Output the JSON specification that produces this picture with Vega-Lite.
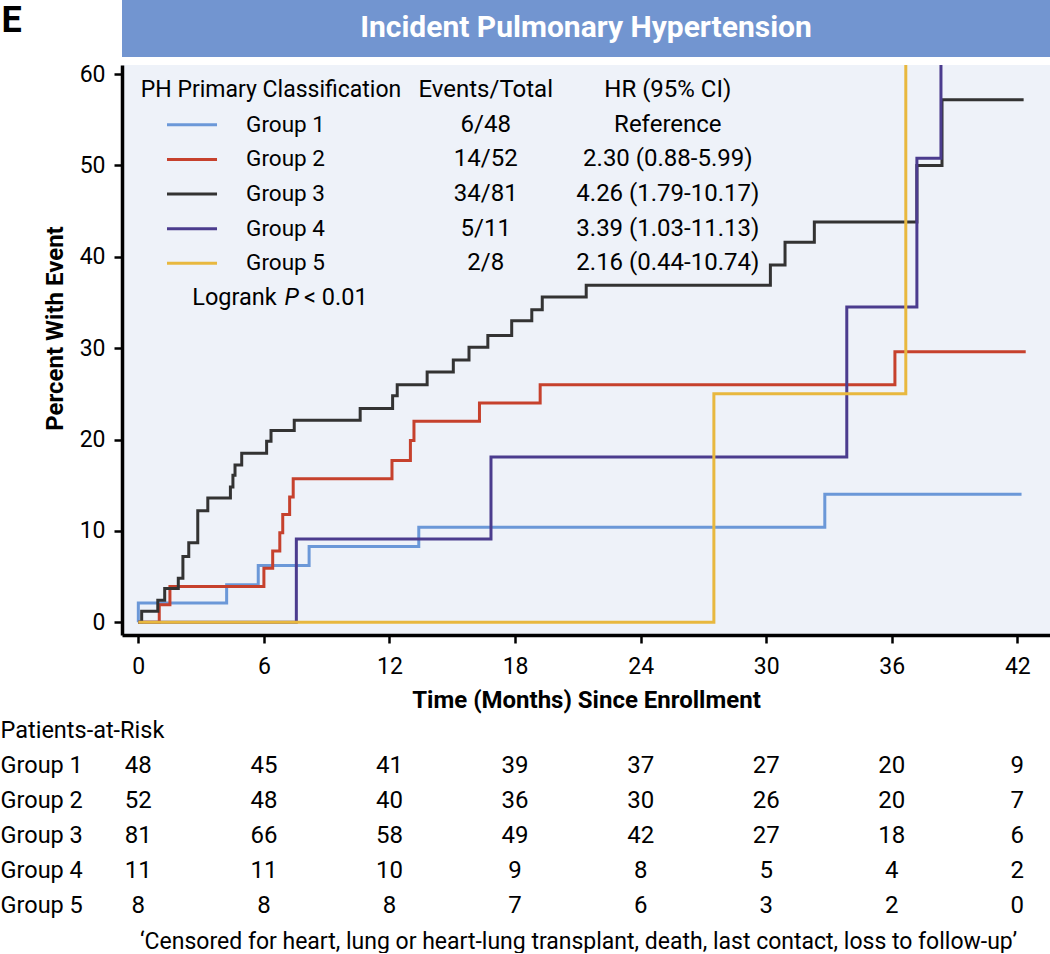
{
  "$schema": "https://vega.github.io/schema/vega-lite/v6.json",
  "padding": 0,
  "autosize": {"type": "pad"},
  "background": "white",
  "bounds": "flush",
  "spacing": 8,
  "config": {
    "font": "Roboto",
    "view": {"stroke": null},
    "text": {"font": "Roboto", "fontSize": 23, "color": "black"},
    "axis": {"labelFont": "Roboto", "titleFont": "Roboto", "labelColor": "black", "titleColor": "black", "grid": false}
  },
  "datasets": {
    "curves": [
      {"group": "Group 1", "t": 0, "pct": 0}, {"group": "Group 1", "t": 0, "pct": 2.1}, {"group": "Group 1", "t": 4.22, "pct": 4.1}, {"group": "Group 1", "t": 5.73, "pct": 6.2}, {"group": "Group 1", "t": 8.16, "pct": 8.3}, {"group": "Group 1", "t": 13.4, "pct": 10.4}, {"group": "Group 1", "t": 32.8, "pct": 14.0}, {"group": "Group 1", "t": 42.2, "pct": 14.0},
      {"group": "Group 2", "t": 0, "pct": 0}, {"group": "Group 2", "t": 1.0, "pct": 1.9}, {"group": "Group 2", "t": 1.51, "pct": 3.9}, {"group": "Group 2", "t": 6.0, "pct": 5.9}, {"group": "Group 2", "t": 6.42, "pct": 7.8}, {"group": "Group 2", "t": 6.76, "pct": 9.8}, {"group": "Group 2", "t": 6.9, "pct": 11.8}, {"group": "Group 2", "t": 7.23, "pct": 13.7}, {"group": "Group 2", "t": 7.4, "pct": 15.7}, {"group": "Group 2", "t": 12.12, "pct": 17.7}, {"group": "Group 2", "t": 13.0, "pct": 19.9}, {"group": "Group 2", "t": 13.17, "pct": 22.0}, {"group": "Group 2", "t": 16.3, "pct": 24.0}, {"group": "Group 2", "t": 19.2, "pct": 26.0}, {"group": "Group 2", "t": 36.15, "pct": 29.6}, {"group": "Group 2", "t": 42.4, "pct": 29.6},
      {"group": "Group 3", "t": 0, "pct": 0}, {"group": "Group 3", "t": 0.16, "pct": 1.2}, {"group": "Group 3", "t": 0.93, "pct": 2.4}, {"group": "Group 3", "t": 1.26, "pct": 3.7}, {"group": "Group 3", "t": 1.91, "pct": 4.8}, {"group": "Group 3", "t": 2.13, "pct": 7.2}, {"group": "Group 3", "t": 2.41, "pct": 8.7}, {"group": "Group 3", "t": 2.84, "pct": 12.2}, {"group": "Group 3", "t": 3.32, "pct": 13.6}, {"group": "Group 3", "t": 4.4, "pct": 14.8}, {"group": "Group 3", "t": 4.52, "pct": 16.1}, {"group": "Group 3", "t": 4.62, "pct": 17.2}, {"group": "Group 3", "t": 4.94, "pct": 18.5}, {"group": "Group 3", "t": 6.13, "pct": 19.8}, {"group": "Group 3", "t": 6.34, "pct": 21.0}, {"group": "Group 3", "t": 7.45, "pct": 22.1}, {"group": "Group 3", "t": 10.6, "pct": 23.4}, {"group": "Group 3", "t": 12.15, "pct": 24.8}, {"group": "Group 3", "t": 12.37, "pct": 26.0}, {"group": "Group 3", "t": 13.8, "pct": 27.4}, {"group": "Group 3", "t": 15.05, "pct": 28.7}, {"group": "Group 3", "t": 15.8, "pct": 30.1}, {"group": "Group 3", "t": 16.7, "pct": 31.4}, {"group": "Group 3", "t": 17.84, "pct": 33.0}, {"group": "Group 3", "t": 18.8, "pct": 34.2}, {"group": "Group 3", "t": 19.3, "pct": 35.6}, {"group": "Group 3", "t": 21.4, "pct": 36.9}, {"group": "Group 3", "t": 30.2, "pct": 39.1}, {"group": "Group 3", "t": 30.9, "pct": 41.6}, {"group": "Group 3", "t": 32.3, "pct": 43.8}, {"group": "Group 3", "t": 37.2, "pct": 50.0}, {"group": "Group 3", "t": 38.4, "pct": 57.2}, {"group": "Group 3", "t": 42.3, "pct": 57.2},
      {"group": "Group 4", "t": 0, "pct": 0}, {"group": "Group 4", "t": 7.55, "pct": 9.1}, {"group": "Group 4", "t": 16.85, "pct": 18.1}, {"group": "Group 4", "t": 33.85, "pct": 34.5}, {"group": "Group 4", "t": 37.2, "pct": 50.8}, {"group": "Group 4", "t": 38.35, "pct": 70.0},
      {"group": "Group 5", "t": 0, "pct": 0}, {"group": "Group 5", "t": 27.5, "pct": 25.0}, {"group": "Group 5", "t": 36.67, "pct": 62.5}
    ],
    "legend": [
      {"row": 0, "label": "PH Primary Classification", "ev": "Events/Total", "hr": "HR (95% CI)"},
      {"row": 1, "group": "Group 1", "label": "Group 1", "ev": "6/48", "hr": "Reference"},
      {"row": 2, "group": "Group 2", "label": "Group 2", "ev": "14/52", "hr": "2.30 (0.88-5.99)"},
      {"row": 3, "group": "Group 3", "label": "Group 3", "ev": "34/81", "hr": "4.26 (1.79-10.17)"},
      {"row": 4, "group": "Group 4", "label": "Group 4", "ev": "5/11", "hr": "3.39 (1.03-11.13)"},
      {"row": 5, "group": "Group 5", "label": "Group 5", "ev": "2/8", "hr": "2.16 (0.44-10.74)"}
    ],
    "logrank": [{"row": 6, "pre": "Logrank", "p": "P", "post": "< 0.01"}],
    "risk": [
      {"row": "Group 1", "t": 0, "n": 48}, {"row": "Group 1", "t": 6, "n": 45}, {"row": "Group 1", "t": 12, "n": 41}, {"row": "Group 1", "t": 18, "n": 39}, {"row": "Group 1", "t": 24, "n": 37}, {"row": "Group 1", "t": 30, "n": 27}, {"row": "Group 1", "t": 36, "n": 20}, {"row": "Group 1", "t": 42, "n": 9},
      {"row": "Group 2", "t": 0, "n": 52}, {"row": "Group 2", "t": 6, "n": 48}, {"row": "Group 2", "t": 12, "n": 40}, {"row": "Group 2", "t": 18, "n": 36}, {"row": "Group 2", "t": 24, "n": 30}, {"row": "Group 2", "t": 30, "n": 26}, {"row": "Group 2", "t": 36, "n": 20}, {"row": "Group 2", "t": 42, "n": 7},
      {"row": "Group 3", "t": 0, "n": 81}, {"row": "Group 3", "t": 6, "n": 66}, {"row": "Group 3", "t": 12, "n": 58}, {"row": "Group 3", "t": 18, "n": 49}, {"row": "Group 3", "t": 24, "n": 42}, {"row": "Group 3", "t": 30, "n": 27}, {"row": "Group 3", "t": 36, "n": 18}, {"row": "Group 3", "t": 42, "n": 6},
      {"row": "Group 4", "t": 0, "n": 11}, {"row": "Group 4", "t": 6, "n": 11}, {"row": "Group 4", "t": 12, "n": 10}, {"row": "Group 4", "t": 18, "n": 9}, {"row": "Group 4", "t": 24, "n": 8}, {"row": "Group 4", "t": 30, "n": 5}, {"row": "Group 4", "t": 36, "n": 4}, {"row": "Group 4", "t": 42, "n": 2},
      {"row": "Group 5", "t": 0, "n": 8}, {"row": "Group 5", "t": 6, "n": 8}, {"row": "Group 5", "t": 12, "n": 8}, {"row": "Group 5", "t": 18, "n": 7}, {"row": "Group 5", "t": 24, "n": 6}, {"row": "Group 5", "t": 30, "n": 3}, {"row": "Group 5", "t": 36, "n": 2}, {"row": "Group 5", "t": 42, "n": 0}
    ]
  },
  "resolve": {"scale": {"x": "independent", "y": "independent", "color": "independent"}},
  "vconcat": [
    {
      "width": 928,
      "height": 57,
      "view": {"fill": "#7295d0", "stroke": null},
      "data": {"values": [{"title": "Incident Pulmonary Hypertension", "panel": "E"}]},
      "mark": {"type": "text", "color": "white", "fontSize": 30, "fontWeight": "bold", "baseline": "alphabetic", "dy": 8.5},
      "encoding": {
        "text": {"field": "title"},
        "y": {"field": "panel", "type": "nominal", "axis": {"title": "E", "labels": false, "ticks": false, "tickSize": 0, "domain": false, "titleAngle": 0, "titleAlign": "left", "titleBaseline": "alphabetic", "titleX": -121, "titleY": 31, "titleFontSize": 36, "titleFontWeight": "bold"}}
      }
    },
    {
      "width": 928,
      "height": 570,
      "view": {"fill": "#eef2f9", "stroke": null},
      "resolve": {"scale": {"y": "independent"}},
      "layer": [
        {
          "data": {"name": "curves"},
          "mark": {"type": "line", "interpolate": "step-after", "strokeWidth": 3, "clip": true},
          "encoding": {
            "x": {"field": "t", "type": "quantitative", "scale": {"domain": [-0.78, 43.56], "nice": false, "zero": false},
              "axis": {"values": [0, 6, 12, 18, 24, 30, 36, 42], "title": "Time (Months) Since Enrollment", "domainColor": "black", "domainWidth": 3.5, "tickColor": "black", "tickWidth": 2.5, "tickSize": 8, "labelFontSize": 23, "labelBaseline": "alphabetic", "labelPadding": 30, "labelFlush": false, "labelOverlap": false, "titleFontSize": 24, "titleFontWeight": "bold", "titleBaseline": "alphabetic", "titleY": 72}},
            "y": {"field": "pct", "type": "quantitative", "scale": {"domain": [-1.4, 61.0], "nice": false, "zero": false},
              "axis": {"values": [0, 10, 20, 30, 40, 50, 60], "title": "Percent With Event", "domainColor": "black", "domainWidth": 3.5, "tickColor": "black", "tickWidth": 2.5, "tickSize": 8, "labelFontSize": 23, "labelPadding": 9, "labelFlush": false, "titleFontSize": 24, "titleFontWeight": "bold", "titleX": -60, "titleY": 263, "titleBaseline": "alphabetic", "titleAlign": "center", "titleAngle": 270}},
            "color": {"field": "group", "type": "nominal", "scale": {"domain": ["Group 1", "Group 2", "Group 3", "Group 4", "Group 5"], "range": ["#6b98d8", "#c6412d", "#333333", "#4b3c8e", "#e8b83f"]}, "legend": null},
            "order": {"value": null}
          }
        },
        {
          "layer": [
            {
              "data": {"name": "legend"},
              "transform": [{"filter": "datum.row > 0"}],
              "mark": {"type": "rule", "strokeWidth": 3},
              "encoding": {
                "x": {"datum": 1.37, "type": "quantitative", "scale": {"domain": [-0.78, 43.56], "nice": false, "zero": false}},
                "x2": {"datum": 3.76},
                "y": {"field": "row", "type": "ordinal", "scale": {"type": "point", "domain": [0, 1, 2, 3, 4, 5, 6, 7, 8, 9, 10, 11, 12, 13, 14, 15], "padding": 0.725}, "axis": null},
                "color": {"field": "group", "type": "nominal", "legend": null}
              }
            },
            {
              "data": {"name": "legend"},
              "transform": [{"filter": "datum.row == 0"}],
              "mark": {"type": "text", "align": "center", "baseline": "middle", "fontSize": 23},
              "encoding": {
                "x": {"datum": 6.34, "type": "quantitative"},
                "y": {"field": "row", "type": "ordinal"},
                "text": {"field": "label"}
              }
            },
            {
              "data": {"name": "legend"},
              "transform": [{"filter": "datum.row > 0"}],
              "mark": {"type": "text", "align": "left", "baseline": "middle", "fontSize": 22.5},
              "encoding": {
                "x": {"datum": 5.15, "type": "quantitative"},
                "y": {"field": "row", "type": "ordinal"},
                "text": {"field": "label"}
              }
            },
            {
              "data": {"name": "legend"},
              "mark": {"type": "text", "align": "center", "baseline": "middle", "fontSize": 24},
              "encoding": {
                "x": {"datum": 16.6, "type": "quantitative"},
                "y": {"field": "row", "type": "ordinal"},
                "text": {"field": "ev"}
              }
            },
            {
              "data": {"name": "legend"},
              "mark": {"type": "text", "align": "center", "baseline": "middle", "fontSize": 24},
              "encoding": {
                "x": {"datum": 25.3, "type": "quantitative"},
                "y": {"field": "row", "type": "ordinal"},
                "text": {"field": "hr"}
              }
            },
            {
              "data": {"name": "logrank"},
              "mark": {"type": "text", "align": "right", "baseline": "middle", "fontSize": 23.5},
              "encoding": {
                "x": {"datum": 6.61, "type": "quantitative"},
                "y": {"field": "row", "type": "ordinal"},
                "text": {"field": "pre"}
              }
            },
            {
              "data": {"name": "logrank"},
              "mark": {"type": "text", "align": "center", "baseline": "middle", "fontStyle": "italic", "fontSize": 23.5},
              "encoding": {
                "x": {"datum": 7.33, "type": "quantitative"},
                "y": {"field": "row", "type": "ordinal"},
                "text": {"field": "p"}
              }
            },
            {
              "data": {"name": "logrank"},
              "mark": {"type": "text", "align": "left", "baseline": "middle", "fontSize": 23.5},
              "encoding": {
                "x": {"datum": 7.92, "type": "quantitative"},
                "y": {"field": "row", "type": "ordinal"},
                "text": {"field": "post"}
              }
            }
          ]
        }
      ]
    },
    {
      "width": 928,
      "height": 280,
      "data": {"name": "risk"},
      "mark": {"type": "text", "fontSize": 24, "baseline": "middle"},
      "encoding": {
        "x": {"field": "t", "type": "quantitative", "scale": {"domain": [-0.78, 43.56], "nice": false, "zero": false},
          "axis": {"title": "‘Censored for heart, lung or heart-lung transplant, death, last contact, loss to follow-up’", "labels": false, "ticks": false, "tickSize": 0, "domain": false, "grid": false, "titleFontSize": 23, "titleFontWeight": "normal", "titleBaseline": "alphabetic", "titleY": 25, "titleX": 456}},
        "y": {"field": "row", "type": "nominal", "scale": {"type": "band", "domain": ["Patients-at-Risk", "Group 1", "Group 2", "Group 3", "Group 4", "Group 5"], "paddingInner": 0, "paddingOuter": 1.055, "align": 1},
          "axis": {"title": null, "ticks": false, "tickSize": 0, "domain": false, "labelAlign": "left", "labelPadding": 122, "labelFontSize": 23.5, "labelBaseline": "middle"}},
        "text": {"field": "n", "type": "quantitative"}
      }
    }
  ]
}
